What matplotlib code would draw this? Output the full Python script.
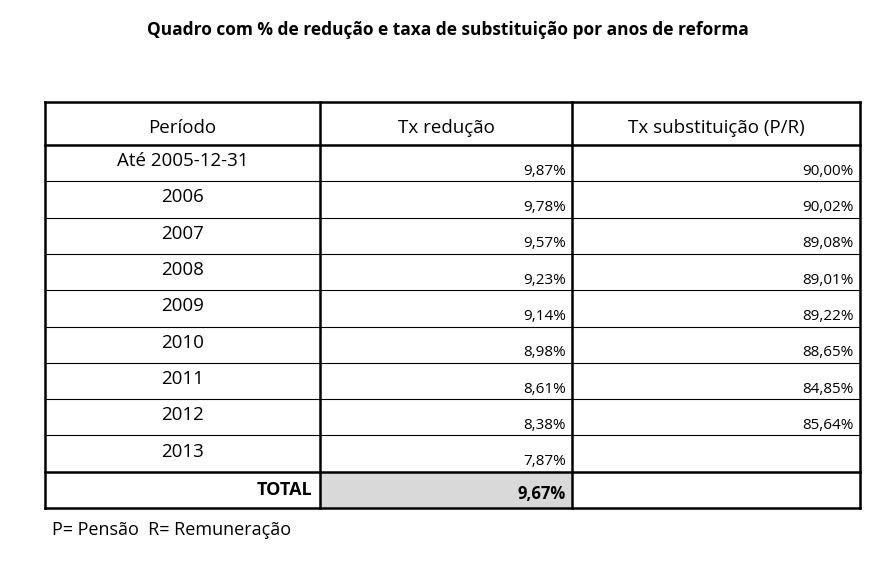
import matplotlib.pyplot as plt
from matplotlib.patches import Rectangle

plt.rcParams['font.family'] = ['Open Sans', 'DejaVu Sans']

title = "Quadro com % de redução e taxa de substituição por anos de reforma"
headers = ["Período", "Tx redução", "Tx substituição (P/R)"]
periods = ["Até 2005-12-31", "2006", "2007", "2008", "2009", "2010",
           "2011", "2012", "2013"]
reducao = ["9,87%", "9,78%", "9,57%", "9,23%", "9,14%", "8,98%",
           "8,61%", "8,38%", "7,87%"]
substituicao = ["90,00%", "90,02%", "89,08%", "89,01%", "89,22%",
                "88,65%", "84,85%", "85,64%", ""]
total_label = "TOTAL"
total_reducao = "9,67%"
note = "P= Pensão  R= Remuneração"

fig = plt.figure(figsize=(8.78, 5.61), dpi=100)
ax = fig.add_axes([0, 0, 1, 1])
ax.set_xlim(0, 878)
ax.set_ylim(561, 0)
ax.axis('off')

cols = [45, 320, 572, 860]
top, head_bot = 102, 145
row_h = 36.3
n = len(periods)
rows = [head_bot + i * row_h for i in range(n + 2)]
bottom = rows[-1]

ax.text(448, 30, title, ha='center', va='center', fontsize=12.5, weight='bold')

# total gray cell
ax.add_patch(Rectangle((cols[1], rows[n]), cols[2] - cols[1], row_h,
                       facecolor='#d9d9d9', edgecolor='none'))

# thin row lines
for y in rows[1:n]:
    ax.plot([cols[0], cols[3]], [y, y], color='black', lw=0.8)
# thick lines
for y in [top, head_bot, rows[n], bottom]:
    ax.plot([cols[0], cols[3]], [y, y], color='black', lw=1.8)
for x in cols:
    ax.plot([x, x], [top, bottom], color='black', lw=1.8)

for i, h in enumerate(headers):
    ax.text((cols[i] + cols[i + 1]) / 2, (top + head_bot) / 2 + 4, h,
            ha='center', va='center', fontsize=13.5)

for i in range(n):
    y0 = rows[i]
    ax.text((cols[0] + cols[1]) / 2, y0 + row_h / 2 - 2, periods[i],
            ha='center', va='center', fontsize=13.5)
    ax.text(cols[2] - 6, y0 + row_h - 10, reducao[i],
            ha='right', va='center', fontsize=11)
    ax.text(cols[3] - 6, y0 + row_h - 10, substituicao[i],
            ha='right', va='center', fontsize=11)

y0 = rows[n]
ax.text(cols[1] - 8, y0 + row_h / 2, total_label, ha='right', va='center',
        fontsize=13, weight='bold')
ax.text(cols[2] - 6, y0 + row_h / 2 + 4, total_reducao, ha='right',
        va='center', fontsize=12, weight='bold')

ax.text(52, 530, note, ha='left', va='center', fontsize=13)

fig.savefig('out.png', dpi=100)
